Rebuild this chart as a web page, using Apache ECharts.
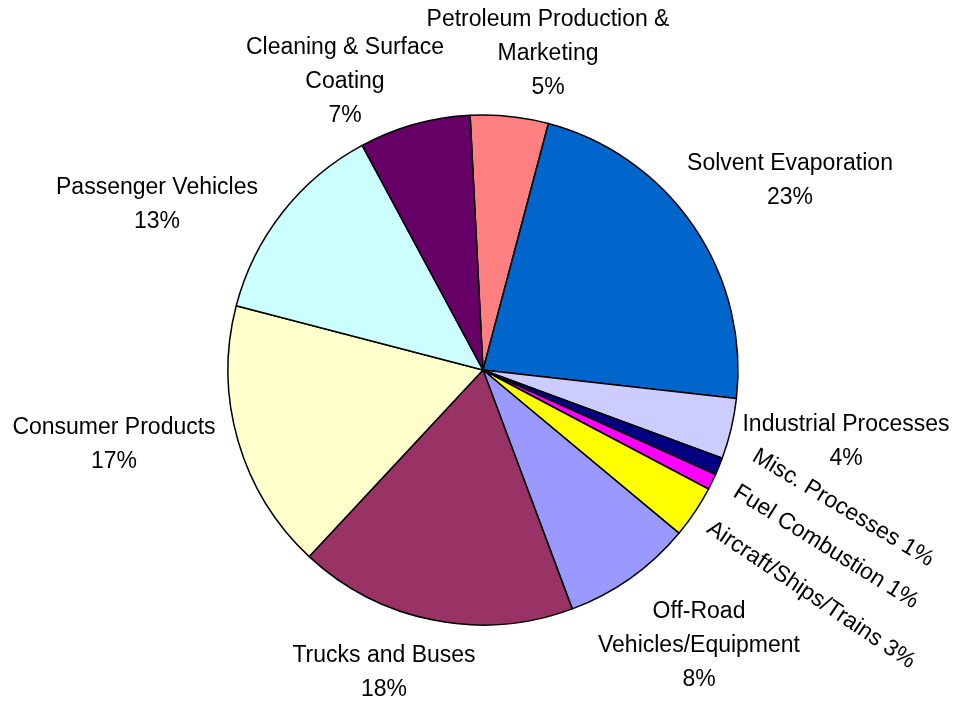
<!DOCTYPE html>
<html>
<head>
<meta charset="utf-8">
<script src="https://cdn.jsdelivr.net/npm/echarts@6/dist/echarts.min.js"></script>
<style>
  html, body { margin: 0; padding: 0; background: #fff; }
  #chart { width: 955px; height: 702px; }
</style>
</head>
<body>
<div id="chart"></div>
<script>
// slices, clockwise from the top
var names = [
  'Petroleum Production &\nMarketing',
  'Solvent Evaporation',
  'Industrial Processes',
  'Misc. Processes',
  'Fuel Combustion',
  'Aircraft/Ships/Trains',
  'Off-Road\nVehicles/Equipment',
  'Trucks and Buses',
  'Consumer Products',
  'Passenger Vehicles',
  'Cleaning & Surface\nCoating'
]
// shares (labels show them rounded)
var values = [4.9, 22.5, 3.8, 1.1, 1.0, 3.3, 8.2, 17.5, 17.0, 13.0, 7.0]
var colors = ['#ff8080', '#0066cc', '#ccccff', '#000080', '#ff00ff', '#ffff00',
  '#9999ff', '#993366', '#ffffcc', '#ccffff', '#660066']

// label centre + rotation (layout only)
var labelPos = [
  [548, 54, 0], [790, 181, 0], [846, 442, 0],
  [843, 508, -31], [826, 547, -32], [811, 595, -34],
  [699, 646, 0], [384, 673, 0], [114, 445, 0], [157, 205, 0], [345, 82, 0]
]
var oneLine = [3, 4, 5] // name and percent on one line

var chart = echarts.init(document.getElementById('chart'))
chart.setOption({
  backgroundColor: '#fff',
  animation: false,
  series: [{
    type: 'pie',
    center: [483, 370],
    radius: 255,
    startAngle: 92.9,
    clockwise: true,
    avoidLabelOverlap: false,
    itemStyle: { borderColor: '#000', borderWidth: 1.5 },
    emphasis: { disabled: true },
    label: {
      show: true,
      position: 'outside',
      color: '#000',
      fontFamily: 'Liberation Sans, Arial, sans-serif',
      fontSize: 23,
      lineHeight: 34,
      align: 'center',
      formatter: function (p) {
        var sep = oneLine.indexOf(p.dataIndex) >= 0 ? ' ' : '\n'
        return p.name + sep + Math.round(values[p.dataIndex]) + '%'
      }
    },
    labelLine: { show: false },
    labelLayout: function (p) {
      var lp = labelPos[p.dataIndex]
      return { x: lp[0], y: lp[1], align: 'center', verticalAlign: 'middle', rotate: lp[2] }
    },
    data: names.map(function (n, i) {
      return { name: n, value: values[i], itemStyle: { color: colors[i] } }
    })
  }]
})
</script>
</body>
</html>
